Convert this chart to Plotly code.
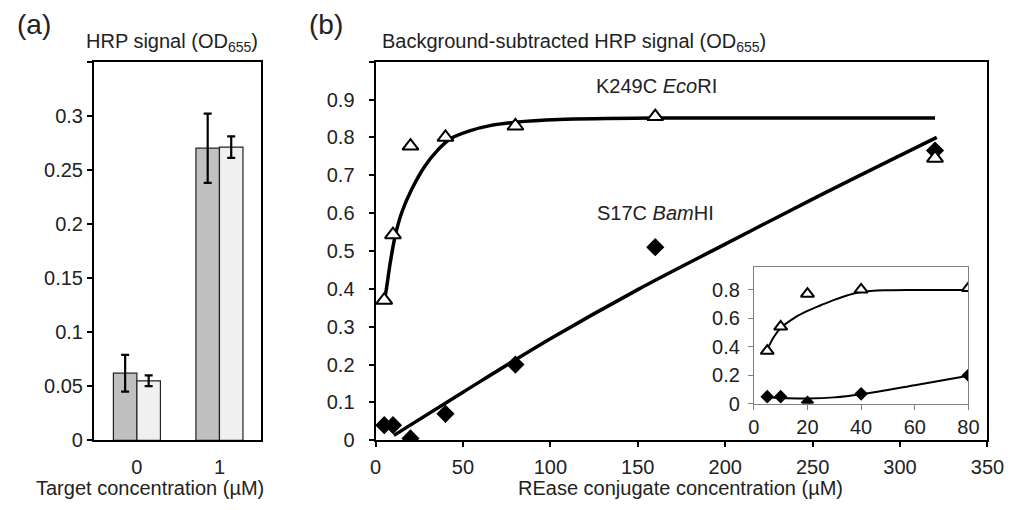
import plotly.graph_objects as go

# ---------------- data ----------------
# panel (a)
target_conc = [0, 1]
target_labels = ["0", "1"]
hrp_dark = [0.062, 0.270]
hrp_dark_err = [0.017, 0.032]
hrp_light = [0.055, 0.271]
hrp_light_err = [0.005, 0.010]

# panel (b)
conc = [5, 10, 20, 40, 80, 160, 320]
eco_vals = [0.37, 0.543, 0.777, 0.80, 0.83, 0.855, 0.745]
bam_vals = [0.04, 0.04, 0.005, 0.07, 0.20, 0.51, 0.765]

# fitted curves
eco_fit_x = [5, 5.8, 8.6, 11.4, 15.1, 20.7, 28.2, 35.7, 43.1, 54.3, 65.5, 80, 105, 160, 240, 320]
eco_fit_y = [0.37, 0.388, 0.474, 0.543, 0.603, 0.663, 0.724, 0.767, 0.797, 0.818, 0.831, 0.840, 0.847, 0.851, 0.851, 0.851]
bam_fit_x = [10.5, 50, 100, 150, 200, 250, 321]
bam_fit_y = [0.013, 0.127, 0.268, 0.398, 0.518, 0.637, 0.80]

# inset
inset_conc = [5, 10, 20, 40, 80]
inset_eco = [0.37, 0.54, 0.77, 0.80, 0.81]
inset_bam = [0.05, 0.05, 0.01, 0.07, 0.20]
inset_eco_fit_x = [5, 7.5, 10, 15, 20, 25, 30, 35, 40, 50, 60, 80]
inset_eco_fit_y = [0.38, 0.47, 0.53, 0.60, 0.65, 0.69, 0.728, 0.76, 0.783, 0.795, 0.797, 0.797]
inset_bam_fit_x = [5, 10, 20, 30, 40, 60, 80]
inset_bam_fit_y = [0.045, 0.04, 0.037, 0.045, 0.067, 0.13, 0.197]

ya_ticks = [0, 0.05, 0.1, 0.15, 0.2, 0.25, 0.3]
ya_text = ["0", "0.05", "0.1", "0.15", "0.2", "0.25", "0.3"]
ya_top = [0.35]
yb_ticks = [0, 0.1, 0.2, 0.3, 0.4, 0.5, 0.6, 0.7, 0.8, 0.9]
yb_text = ["0", "0.1", "0.2", "0.3", "0.4", "0.5", "0.6", "0.7", "0.8", "0.9"]
yb_top = [1.0]
xb_ticks = [0, 50, 100, 150, 200, 250, 300, 350]
yi_ticks = [0, 0.2, 0.4, 0.6, 0.8]
yi_text = ["0", "0.2", "0.4", "0.6", "0.8"]
xi_ticks = [0, 20, 40, 60, 80]

FONT = "Liberation Sans, Arial, sans-serif"
TXT = "#222222"
W, H = 1025, 510


def px(x):
    return x / W


def py(y):
    return (H - y) / H


fig = go.Figure()

# ---- panel (a) bars
fig.add_trace(go.Bar(
    x=target_conc, y=hrp_dark, width=0.285, offset=-0.285,
    marker=dict(color="#c0c0c0", line=dict(color="#222222", width=1.2)),
    error_y=dict(type="data", array=hrp_dark_err, color="black", thickness=2.2, width=4),
    xaxis="x", yaxis="y", showlegend=False))
fig.add_trace(go.Bar(
    x=target_conc, y=hrp_light, width=0.285, offset=0,
    marker=dict(color="#f0f0f0", line=dict(color="#222222", width=1.2)),
    error_y=dict(type="data", array=hrp_light_err, color="black", thickness=2.2, width=4),
    xaxis="x", yaxis="y", showlegend=False))

# ---- panel (b)
fig.add_trace(go.Scatter(x=eco_fit_x, y=eco_fit_y, mode="lines", line=dict(color="black", width=3.5, shape="spline"),
                         xaxis="x2", yaxis="y2", showlegend=False))
fig.add_trace(go.Scatter(x=bam_fit_x, y=bam_fit_y, mode="lines", line=dict(color="black", width=3.5, shape="spline"),
                         xaxis="x2", yaxis="y2", showlegend=False))
fig.add_trace(go.Scatter(x=conc, y=bam_vals, mode="markers",
                         marker=dict(symbol="diamond", size=14, color="black", line=dict(width=0)),
                         xaxis="x2", yaxis="y2", showlegend=False))
fig.add_trace(go.Scatter(x=conc, y=eco_vals, mode="markers",
                         marker=dict(symbol="triangle-up", size=14, color="white", line=dict(color="black", width=2)),
                         xaxis="x2", yaxis="y2", showlegend=False))

# ---- inset
fig.add_trace(go.Scatter(x=inset_eco_fit_x, y=inset_eco_fit_y, mode="lines", line=dict(color="black", width=2, shape="spline"),
                         xaxis="x3", yaxis="y3", showlegend=False))
fig.add_trace(go.Scatter(x=inset_bam_fit_x, y=inset_bam_fit_y, mode="lines", line=dict(color="black", width=2, shape="spline"),
                         xaxis="x3", yaxis="y3", showlegend=False))
fig.add_trace(go.Scatter(x=inset_conc, y=inset_bam, mode="markers",
                         marker=dict(symbol="diamond", size=10.5, color="black", line=dict(width=0)),
                         xaxis="x3", yaxis="y3", showlegend=False))
fig.add_trace(go.Scatter(x=inset_conc, y=inset_eco, mode="markers",
                         marker=dict(symbol="triangle-up", size=11.5, color="white", line=dict(color="black", width=2)),
                         xaxis="x3", yaxis="y3", showlegend=False))

axis_common = dict(showline=True, linecolor="black", linewidth=2, mirror=True, showgrid=False, zeroline=False,
                   tickfont=dict(family=FONT, size=20, color=TXT), ticks="outside", tickcolor="black",
                   tickwidth=2, ticklen=5)
inset_common = dict(showline=True, linecolor="#808080", linewidth=1, mirror=True, showgrid=False, zeroline=False,
                    tickfont=dict(family=FONT, size=20, color=TXT), ticks="outside", tickcolor="#808080",
                    tickwidth=1, ticklen=5)

y_dom = [py(450), py(63)]

fig.update_layout(
    width=W, height=H, margin=dict(l=0, r=0, t=0, b=0),
    paper_bgcolor="white", plot_bgcolor="white",
    font=dict(family=FONT, size=20, color=TXT),
    xaxis=dict(axis_common, domain=[px(90), px(261)], range=[-0.52, 1.505], tickvals=target_conc,
               ticktext=target_labels, ticks="", anchor="y", ticklabelstandoff=8),
    yaxis=dict(axis_common, domain=y_dom, range=[0, 0.35], tickvals=ya_ticks, ticktext=ya_text, anchor="x",
               minor=dict(tickvals=ya_top, ticks="outside", ticklen=5, tickwidth=2, tickcolor="black",
                          showgrid=False)),
    xaxis2=dict(axis_common, domain=[px(378), px(1004)], range=[0, 350], tickvals=xb_ticks, anchor="y2",
                ticklabelstandoff=3),
    yaxis2=dict(axis_common, domain=y_dom, range=[0, 1.0], tickvals=yb_ticks, ticktext=yb_text, anchor="x2",
                ticklabelstandoff=10,
                minor=dict(tickvals=yb_top, ticks="outside", ticklen=5, tickwidth=2, tickcolor="black",
                           showgrid=False)),
    xaxis3=dict(inset_common, domain=[px(765), px(984.5)], range=[0, 80], tickvals=xi_ticks, anchor="y3"),
    yaxis3=dict(inset_common, domain=[py(412.7), py(273.3)], range=[0, 0.955], tickvals=yi_ticks, ticktext=yi_text,
                anchor="x3", ticklabelstandoff=4),
)

ann = dict(xref="paper", yref="paper", showarrow=False, xanchor="center", yanchor="middle",
           font=dict(family=FONT, size=20, color=TXT))
big = dict(family=FONT, size=28, color=TXT)
fig.add_annotation(ann, x=px(29), y=py(25), text="(a)", font=big)
fig.add_annotation(ann, x=px(327), y=py(25), text="(b)", font=big)
fig.add_annotation(ann, x=px(170), y=py(43), text="HRP signal (OD<sub>655</sub>)")
fig.add_annotation(ann, x=px(383), y=py(43), xanchor="left", text="Background-subtracted HRP signal (OD<sub>655</sub>)")
fig.add_annotation(ann, x=px(147), y=py(499), text="Target concentration (µM)")
fig.add_annotation(ann, x=px(690), y=py(499), text="REase conjugate concentration (µM)")
fig.add_annotation(ann, x=px(665), y=py(88), text="K249C <i>Eco</i>RI")
fig.add_annotation(ann, x=px(664), y=py(218), text="S17C <i>Bam</i>HI")

fig.write_html("out.html",
               post_script="document.body.style.margin='0';document.body.style.overflow='hidden';")
